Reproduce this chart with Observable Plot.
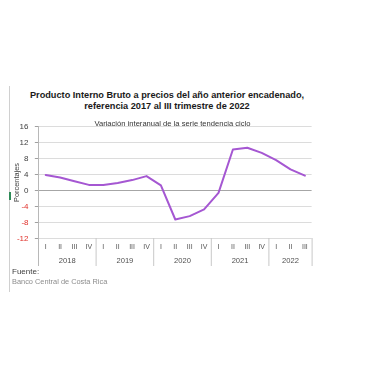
<!DOCTYPE html>
<html><head><meta charset="utf-8">
<script src="https://cdn.jsdelivr.net/npm/d3@7"></script>
<script src="https://cdn.jsdelivr.net/npm/@observablehq/plot@0.6"></script>
<style>
body{margin:0;background:#fff;font-family:"Liberation Sans",Arial,sans-serif;}
#wrap{position:relative;width:380px;height:380px;overflow:hidden;}
#title{position:absolute;left:0;width:334px;top:90px;text-align:center;font-weight:bold;font-size:9.2px;line-height:10.5px;color:#1a1a1a;}
#chart{position:absolute;left:0;top:110px;will-change:transform;}
#border{position:absolute;left:9px;top:86px;width:1px;height:206px;background:#d0d0d0;}
#mark{position:absolute;left:9px;top:192px;width:2px;height:8px;background:#2e8b57;}
#src1{position:absolute;left:12px;top:267px;font-size:8px;color:#404040;}
#src2{position:absolute;left:12px;top:277px;font-size:7.4px;color:#8c8c8c;}
</style></head>
<body><div id="wrap">
<div id="border"></div><div id="mark"></div>
<div id="title">Producto Interno Bruto a precios del año anterior encadenado,<br>referencia 2017 al III trimestre de 2022</div>
<div id="chart"></div>
<div id="src1">Fuente:</div>
<div id="src2">Banco Central de Costa Rica</div>
</div>
<script>
const years = ["2018","2019","2020","2021","2022"];
const quarters = ["I","II","III","IV","I","II","III","IV","I","II","III","IV","I","II","III","IV","I","II","III"];
const values = [3.9,3.25,2.3,1.4,1.4,1.9,2.6,3.6,1.3,-7.25,-6.4,-4.7,-0.6,10.25,10.7,9.4,7.6,5.3,3.7];
const yTicks = [-12,-8,-4,0,4,8,12,16];
const yearBounds = [0,4,8,12,16,19];

const pts = values.map((v,i)=>({i:i+0.5,v,q:quarters[i]}));
const yrs = years.map((y,k)=>({y, x:(yearBounds[k]+yearBounds[k+1])/2}));

const chart = Plot.plot({
  width:380, height:180,
  marginLeft:38, marginRight:68.4, marginTop:16, marginBottom:52,
  x:{domain:[0,19], axis:null},
  y:{domain:[-12,16], axis:null},
  color:{type:"identity"},
  style:{fontFamily:"Liberation Sans, Arial, sans-serif", background:"transparent"},
  marks:[
    Plot.ruleY(yTicks.filter(d=>d!==0), {x1:0, x2:19, stroke:"#dcdcdc", strokeWidth:1}),
    Plot.ruleY(yTicks, {x1:-0.22, x2:0, stroke:"#a0a0a0", strokeWidth:1}),
    Plot.ruleY([0], {x1:0, x2:19, stroke:"#a6a6a6", strokeWidth:1.2}),
    Plot.ruleX([0], {y1:-19, y2:16, stroke:"#b8b8b8", strokeWidth:1}),
    Plot.ruleX(yearBounds.slice(1), {y1:-19, y2:-12, stroke:"#c8c8c8", strokeWidth:1}),
    Plot.text(yTicks, {x:0, y:d=>d, text:d=>String(d), dx:-10, textAnchor:"end", fontSize:8, fill:d=>d<0?"#e0302a":"#404040"}),
    Plot.text(pts, {x:"i", y:-12, text:"q", dy:8, fontSize:7, fill:"#555555"}),
    Plot.text(yrs, {x:"x", y:-12, text:"y", dy:22, fontSize:7.6, fill:"#505050"}),
    Plot.text(["Variación interanual de la serie tendencia ciclo"], {x:9.3, y:16, text:d=>d, dy:-3, fontSize:7.6, fill:"#333"}),
    Plot.text(["Porcentajes"], {x:0, y:2, text:d=>d, dx:-22, rotate:-90, fontSize:7.4, fill:"#404040"}),
    Plot.line(pts, {x:"i", y:"v", stroke:"#a557d2", strokeWidth:2, curve:"linear"})
  ]
});
document.getElementById("chart").appendChild(chart);
</script>
</body></html>
